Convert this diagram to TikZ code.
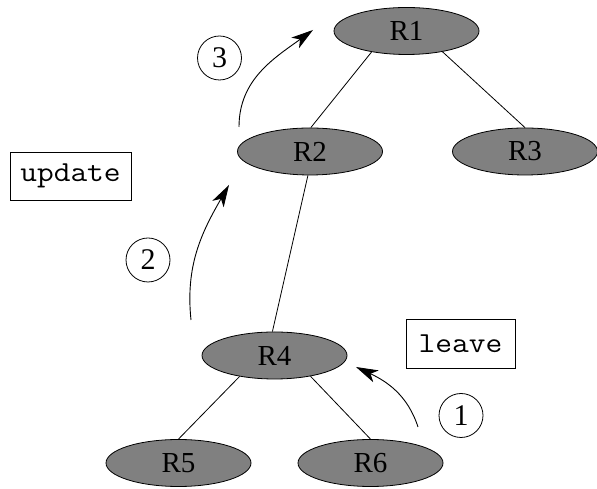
\documentclass[tikz,border=0pt]{standalone}
\usepackage{fontspec}
\setmainfont{Liberation Serif}
\usetikzlibrary{arrows.meta,shapes.geometric}
\newcommand{\widemono}[1]{\scalebox{1.12}[1]{#1}}
\begin{document}
\begin{tikzpicture}[x=1pt,y=1pt,
  router/.style={ellipse,draw=black,fill={rgb,255:red,128;green,128;blue,128},line width=0.8pt,minimum width=145pt,minimum height=47pt,inner sep=0pt,font=\fontsize{29}{31}\selectfont},
  label box/.style={draw=black,line width=0.8pt,inner sep=0pt,font=\ttfamily\fontsize{29}{31}\selectfont},
  stepnum/.style={circle,draw=black,line width=0.8pt,minimum size=44pt,inner sep=0pt,font=\fontsize{30}{32}\selectfont},
  link/.style={draw=black,line width=0.8pt},
  move/.style={draw=black,line width=0.9pt,-{Stealth[length=22pt,width=13pt,inset=6pt]}}
]
\useasboundingbox (0,0) rectangle (597,489);
\node[router] (R1) at (406.5,458) {R1};
\node[router] (R2) at (310,337.5) {R2};
\node[router] (R3) at (525,337.5) {R3};
\node[router] (R4) at (274.5,133.5) {R4};
\node[router] (R5) at (178.5,26) {R5};
\node[router] (R6) at (370.5,26) {R6};
\node[label box,minimum width=121pt,minimum height=48pt] (upd) at (70.5,313) {\widemono{update}};
\node[label box,minimum width=109pt,minimum height=49pt] (lv) at (460.5,145.5) {\widemono{leave}};
\node[stepnum] (c3) at (219.5,431) {3};
\node[stepnum] (c2) at (148,229) {2};
\node[stepnum] (c1) at (461,73.5) {1};
\draw[link] (R1.211) -- (R2.88);
\draw[link] (R1.330) -- (R3.north);
\draw[link] (R2.265) -- (R4.95);
\draw[link] (R4.211) -- (R5.north);
\draw[link] (R4.330) -- (R6.north);
\coordinate (a3s) at (239,362);
\coordinate (a3e) at (313,459);
\coordinate (a2s) at (191,169);
\coordinate (a2e) at (229,304);
\coordinate (a1s) at (418,62);
\coordinate (a1e) at (356,122);
\draw[move] (a3s) to[out=90,in=216] (a3e);
\draw[move] (a2s) to[out=96,in=240] (a2e);
\draw[move] (a1s) to[out=108,in=335] (a1e);
\end{tikzpicture}
\end{document}
